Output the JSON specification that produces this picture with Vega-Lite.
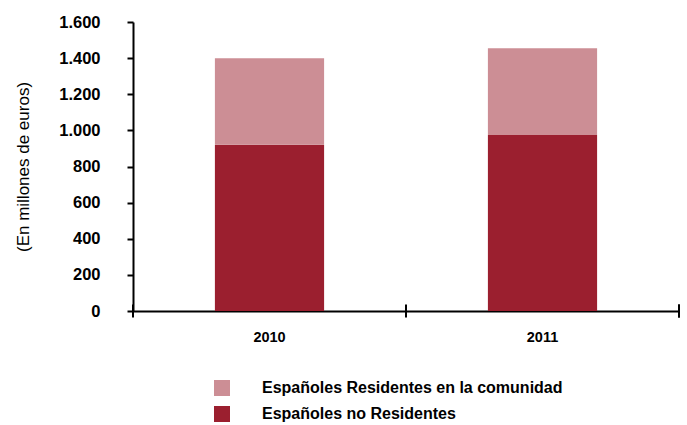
{
  "$schema": "https://vega.github.io/schema/vega-lite/v6.json",
  "width": 546,
  "height": 289,
  "padding": {"left": 14, "top": 14, "right": 8, "bottom": 5},
  "autosize": {"type": "pad"},
  "background": "white",
  "config": {
    "view": {"stroke": null},
    "font": "Liberation Sans"
  },
  "datasets": {
    "main": [
      {"year": "2010", "serie": "Españoles no Residentes", "orden": 1, "valor": 920},
      {"year": "2010", "serie": "Españoles Residentes en la comunidad", "orden": 2, "valor": 480},
      {"year": "2011", "serie": "Españoles no Residentes", "orden": 1, "valor": 975},
      {"year": "2011", "serie": "Españoles Residentes en la comunidad", "orden": 2, "valor": 480}
    ],
    "years": [{"year": "2010"}, {"year": "2011"}]
  },
  "layer": [
    {
      "data": {"name": "main"},
      "mark": {"type": "bar"},
      "encoding": {
        "x": {
          "field": "year", "type": "nominal",
          "scale": {"paddingInner": 0.6, "paddingOuter": 0.3},
          "axis": {
            "title": null, "labelAngle": 0, "ticks": false,
            "labelFont": "Liberation Sans", "labelFontWeight": "bold", "labelFontSize": 14.5,
            "labelColor": "black", "labelPadding": 19,
            "domainColor": "black", "domainWidth": 2
          }
        },
        "y": {
          "field": "valor", "type": "quantitative", "stack": "zero",
          "scale": {"domain": [0, 1600], "nice": false},
          "axis": {
            "title": "(En millones de euros)",
            "titleFont": "Liberation Sans", "titleFontWeight": "normal", "titleFontSize": 17,
            "titleColor": "black", "titlePadding": 26,
            "tickCount": 8,
            "labelOverlap": false,
            "labelExpr": "replace(format(datum.value, ','), ',', '.')",
            "labelFont": "Liberation Sans", "labelFontWeight": "bold", "labelFontSize": 16.5,
            "labelColor": "black", "labelPadding": 27,
            "grid": false, "domainColor": "black", "domainWidth": 2,
            "tickColor": "black", "tickWidth": 2, "tickSize": 6
          }
        },
        "color": {
          "field": "serie", "type": "nominal",
          "scale": {
            "domain": ["Españoles Residentes en la comunidad", "Españoles no Residentes"],
            "range": ["#CC8E95", "#9B1F2F"]
          },
          "legend": {
            "title": null, "orient": "none", "legendX": 81, "legendY": 358,
            "symbolType": "square", "symbolSize": 256, "symbolStrokeWidth": 0,
            "labelFont": "Liberation Sans", "labelFontWeight": "bold", "labelFontSize": 16,
            "labelColor": "black", "labelOffset": 32, "rowPadding": 10, "labelLimit": 0
          }
        },
        "order": {"field": "orden", "type": "quantitative"}
      }
    },
    {
      "data": {"name": "years"},
      "mark": {"type": "rule", "color": "black", "strokeWidth": 2},
      "encoding": {
        "x": {"field": "year", "type": "nominal", "bandPosition": -0.75},
        "y": {"datum": -36},
        "y2": {"datum": 36}
      }
    },
    {
      "data": {"name": "years"},
      "mark": {"type": "rule", "color": "black", "strokeWidth": 2},
      "encoding": {
        "x": {"datum": "2011", "type": "nominal", "bandPosition": 1.75},
        "y": {"datum": -36},
        "y2": {"datum": 36}
      }
    }
  ]
}
